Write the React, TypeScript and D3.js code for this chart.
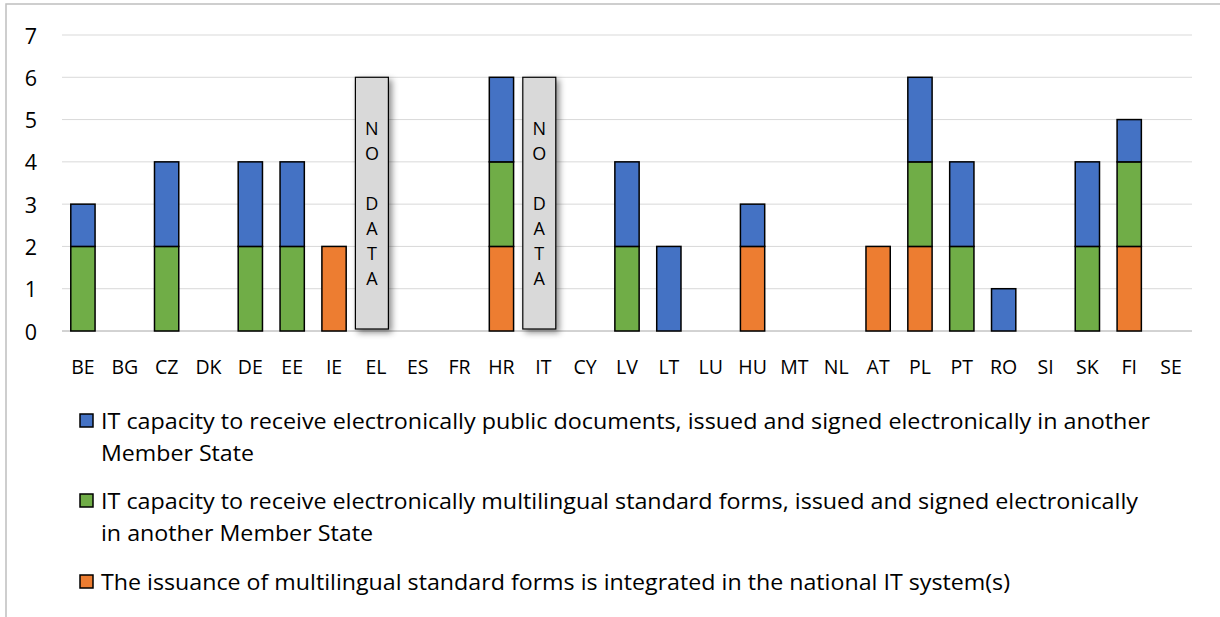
import { useMemo } from "react";
import * as d3 from "d3";

const countries = [
  "BE", "BG", "CZ", "DK", "DE", "EE", "IE", "EL", "ES", "FR", "HR", "IT", "CY", "LV",
  "LT", "LU", "HU", "MT", "NL", "AT", "PL", "PT", "RO", "SI", "SK", "FI", "SE",
];

// bottom -> top
const orange = [0, 0, 0, 0, 0, 0, 2, 0, 0, 0, 2, 0, 0, 0, 0, 0, 2, 0, 0, 2, 2, 0, 0, 0, 0, 2, 0];
const green = [2, 0, 2, 0, 2, 2, 0, 0, 0, 0, 2, 0, 0, 2, 0, 0, 0, 0, 0, 0, 2, 2, 0, 0, 2, 2, 0];
const blue = [1, 0, 2, 0, 2, 2, 0, 0, 0, 0, 2, 0, 0, 2, 2, 0, 1, 0, 0, 0, 2, 2, 1, 0, 2, 1, 0];

const noData = ["EL", "IT"];
const noDataHeight = 6;
const noDataLetters = ["N", "O", "", "D", "A", "T", "A"];

const yTicks = [0, 1, 2, 3, 4, 5, 6, 7];

const seriesKeys = ["orange", "green", "blue"];
const colors: Record<string, string> = {
  orange: "#ed7d31",
  green: "#70ad47",
  blue: "#4472c4",
};

const legendItems = [
  {
    key: "blue",
    lines: [
      "IT capacity to receive electronically public documents, issued and signed electronically in another",
      "Member State",
    ],
    widths: [1049, 153],
  },
  {
    key: "green",
    lines: [
      "IT capacity to receive electronically multilingual standard forms, issued and signed electronically",
      "in another Member State",
    ],
    widths: [1037, 272],
  },
  {
    key: "orange",
    lines: ["The issuance of multilingual standard forms is integrated in the national IT system(s)"],
    widths: [909],
  },
];

const width = 1220;
const height = 617;
const font = "'Open Sans', 'Noto Sans', sans-serif";

export default function App() {
  const x = useMemo(
    () => d3.scaleBand<string>().domain(countries).range([62, 1192]).paddingInner(0.42).paddingOuter(0.21),
    []
  );
  const y = useMemo(() => d3.scaleLinear().domain([0, 7]).range([331, 35]), []);

  const stacked = useMemo(() => {
    const rows = countries.map((c, i) => ({
      country: c,
      orange: orange[i],
      green: green[i],
      blue: blue[i],
    }));
    return d3.stack<any>().keys(seriesKeys)(rows);
  }, []);

  const legendY = [421, 501, 582];

  return (
    <svg
      width={width}
      height={height}
      style={{ position: "absolute", left: 0, top: 0, background: "#fff" }}
      fontFamily={font}
    >
      <defs>
        <filter id="shadow" x="-50%" y="-10%" width="200%" height="130%">
          <feDropShadow dx="3" dy="3" stdDeviation="3" floodColor="#000" floodOpacity="0.45" />
        </filter>
      </defs>
      <rect x={6} y={4} width={1230} height={640} fill="#fff" stroke="#bfbfbf" strokeWidth={1.5} />

      {yTicks.map((t) => (
        <g key={t}>
          <line
            x1={62}
            x2={1192}
            y1={y(t)}
            y2={y(t)}
            stroke={t === 0 ? "#a6a6a6" : "#d9d9d9"}
            strokeWidth={1}
          />
          <text x={37} y={y(t)} textAnchor="end" dominantBaseline="central" fontSize={21.5} fill="#000">
            {t}
          </text>
        </g>
      ))}

      {stacked.map((s) => (
        <g key={s.key} fill={colors[s.key]}>
          {s.map((d, i) =>
            d[1] - d[0] > 0 ? (
              <rect
                key={i}
                x={x(countries[i])}
                y={y(d[1])}
                width={x.bandwidth()}
                height={y(d[0]) - y(d[1])}
                stroke="#000"
                strokeWidth={1.5}
              />
            ) : null
          )}
        </g>
      ))}

      {noData.map((c) => {
        const cx = (x(c) ?? 0) + x.bandwidth() / 2 - 4;
        const w = 33;
        const top = y(noDataHeight);
        const bottom = y(0) - 2;
        const mid = (top + bottom) / 2;
        return (
          <g key={c}>
            <rect
              x={cx - w / 2}
              y={top}
              width={w}
              height={bottom - top}
              fill="#d9d9d9"
              stroke="#000"
              strokeWidth={1.2}
              filter="url(#shadow)"
            />
            {noDataLetters.map((l, i) => (
              <text
                key={i}
                x={cx}
                y={mid + (i - 3) * 25}
                textAnchor="middle"
                dominantBaseline="central"
                fontSize={18}
                fill="#000"
              >
                {l}
              </text>
            ))}
          </g>
        );
      })}

      {countries.map((c) => (
        <text
          key={c}
          x={(x(c) ?? 0) + x.bandwidth() / 2}
          y={366}
          textAnchor="middle"
          dominantBaseline="central"
          fontSize={19.5}
          fill="#000"
        >
          {c}
        </text>
      ))}

      {legendItems.map((item, k) => (
        <g key={item.key}>
          <rect
            x={80}
            y={legendY[k] - 7}
            width={13}
            height={13}
            fill={colors[item.key]}
            stroke="#000"
            strokeWidth={1.5}
          />
          {item.lines.map((line, j) => (
            <text
              key={j}
              x={101}
              y={legendY[k] + j * 32}
              dominantBaseline="central"
              fontSize={21}
              textLength={item.widths[j]}
              lengthAdjust="spacingAndGlyphs"
              fill="#000"
            >
              {line}
            </text>
          ))}
        </g>
      ))}
    </svg>
  );
}
